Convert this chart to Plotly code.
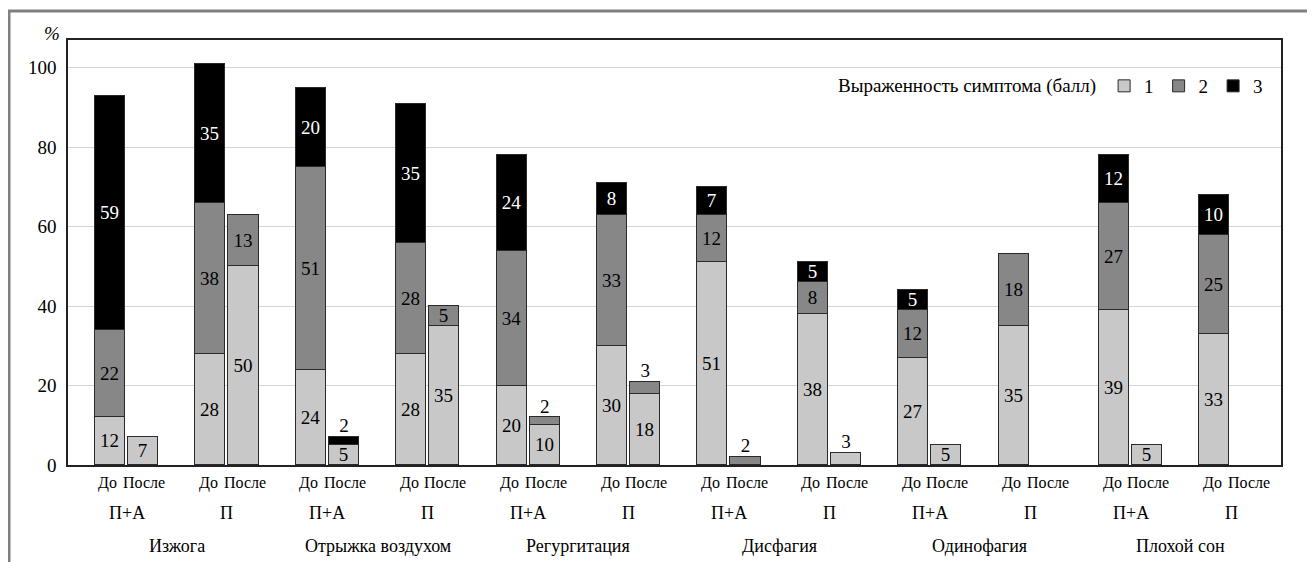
import plotly.graph_objects as go

# ---- data ----
symptoms = ["Изжога", "Отрыжка воздухом", "Регургитация", "Дисфагия", "Одинофагия", "Плохой сон"]
therapies = ["П+А", "П"]
phases = ["До", "После"]
levels = ["1", "2", "3"]

# order: for each symptom -> for each therapy -> До, После
score1 = [12, 7, 28, 50,
          24, 5, 28, 35,
          20, 10, 30, 18,
          51, 0, 38, 3,
          27, 5, 35, 0,
          39, 5, 33, 0]
score2 = [22, 0, 38, 13,
          51, 0, 28, 5,
          34, 2, 33, 3,
          12, 2, 8, 0,
          12, 0, 18, 0,
          27, 0, 25, 0]
score3 = [59, 0, 35, 0,
          20, 2, 35, 0,
          24, 0, 8, 0,
          7, 0, 5, 0,
          5, 0, 0, 0,
          12, 0, 10, 0]

colors = ["#c8c8c8", "#878787", "#000000"]
text_colors = ["#000000", "#000000", "#ffffff"]
FONT = "Times New Roman"
FS = 19
FS_CAT = 18
FS_SMALL = 16

# page offset of the figure (default body margin)
OFF = 8
W, H = 1315 - OFF, 562 - OFF

# positions
pair_step = 1.0
offset = 0.33
bar_w = 0.30
xs = []
for s in range(len(symptoms)):
    for t in range(len(therapies)):
        k = s * 2 + t
        xs.append(k * pair_step)
        xs.append(k * pair_step + offset)

series = [score1, score2, score3]
small_limit = 3

fig = go.Figure()
for lvl, vals in enumerate(series):
    yv = [v if v > 0 else None for v in vals]
    txt = [str(v) if v > small_limit else "" for v in vals]
    fig.add_trace(go.Bar(
        x=xs, y=yv, width=bar_w, name=levels[lvl],
        marker=dict(color=colors[lvl], line=dict(color="#2a2a2a", width=1)),
        text=txt, textposition="inside", insidetextanchor="middle",
        textangle=0, constraintext="none",
        insidetextfont=dict(family=FONT, size=FS, color=text_colors[lvl]),
        hoverinfo="skip",
    ))

# small labels placed above the stack
sx, sy, st = [], [], []
for i in range(len(xs)):
    total = score1[i] + score2[i] + score3[i]
    for vals in series:
        if 0 < vals[i] <= small_limit:
            sx.append(xs[i]); sy.append(total); st.append(str(vals[i]))
fig.add_trace(go.Scatter(
    x=sx, y=sy, text=st, mode="text", textposition="top center",
    textfont=dict(family=FONT, size=FS, color="#000000"),
    showlegend=False, hoverinfo="skip", cliponaxis=False,
))

# page-pixel helpers (reference coordinates)
PL, PR, PT, PB = 68, 1281, 40, 465
def px(p):
    return (p - PL) / (PR - PL)
def py(q):
    return (PB - q) / (PB - PT)

def label(x, y, text, size, xref="x", xshift=0):
    return dict(x=x, y=y, xref=xref, yref="paper", text=text, xshift=xshift,
                xanchor="center", yanchor="middle", showarrow=False,
                font=dict(family=FONT, size=size, color="#000"))

ann = []
shift_phase = [-2, 1]
for i, x in enumerate(xs):
    ann.append(label(x, py(483), phases[i % 2], FS_SMALL, xshift=shift_phase[i % 2]))
for s in range(len(symptoms)):
    for t in range(len(therapies)):
        k = s * 2 + t
        ann.append(label(k * pair_step + offset / 2, py(513), therapies[t], FS_CAT))
    ann.append(label(s * 2 + (pair_step + offset) / 2, py(546), symptoms[s], FS_CAT))
ann.append(label(px(52), py(33), "<i>%</i>", FS, xref="paper"))

fig.update_layout(
    width=W, height=H,
    margin=dict(l=PL - OFF, r=1315 - PR, t=PT - OFF, b=562 - PB),
    barmode="stack", bargap=0,
    plot_bgcolor="#ffffff", paper_bgcolor="#ffffff",
    font=dict(family=FONT, size=FS, color="#000"),
    xaxis=dict(range=[-0.418, 11.663], showticklabels=False, showgrid=False,
               zeroline=False, showline=True, mirror=True, linecolor="#222", linewidth=1.5,
               ticks=""),
    yaxis=dict(range=[0, 107], tickvals=[0, 20, 40, 60, 80, 100], showgrid=True,
               gridcolor="#d4d4d4", gridwidth=1, zeroline=False, showline=True, mirror=True,
               linecolor="#222", linewidth=1.5, ticks="", ticklabelstandoff=6,
               tickfont=dict(family=FONT, size=FS, color="#000")),
    legend=dict(orientation="h", x=px(1268), xanchor="right", y=py(86), yanchor="middle",
                bgcolor="rgba(0,0,0,0)", font=dict(family=FONT, size=FS, color="#000"),
                title=dict(text="Выраженность симптома (балл)", side="left",
                           font=dict(family=FONT, size=FS, color="#000")),
                itemwidth=30, traceorder="normal"),
    annotations=ann,
    shapes=[dict(type="rect", xref="paper", yref="paper", x0=px(9), x1=px(1309),
                 y0=py(590), y1=py(11), line=dict(color="#808080", width=3),
                 fillcolor="rgba(0,0,0,0)", layer="below")],
)

fig.write_html("out.html")
